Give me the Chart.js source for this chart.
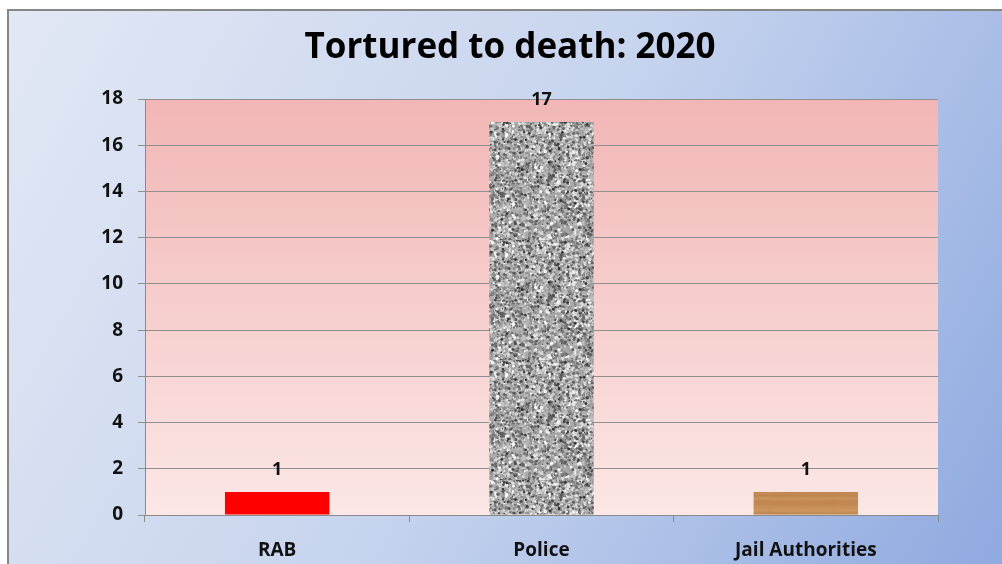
<!DOCTYPE html>
<html>
<head>
<meta charset="utf-8">
<script src="https://cdn.jsdelivr.net/npm/chart.js@4.4.1/dist/chart.umd.min.js"></script>
<style>
    html, body { margin: 0; padding: 0; background: #ffffff; }
    #wrap { width: 1002px; height: 564px; }
</style>
</head>
<body>
<div id="wrap"><canvas id="torture-chart" width="1002" height="564"></canvas></div>
<script>
// categories and counts
var categories = ["RAB", "Police", "Jail Authorities"];
var deaths = [1, 17, 1];
var yMax = 18;
var yStep = 2;
var chartTitle = "Tortured to death: 2020";

// simple seeded generator for the bar textures
var seed = 12345;
function rnd() {
    seed = (seed * 1103515245 + 12345) % 2147483648;
    return seed / 2147483648;
}

// speckled grey granite fill
function granitePattern() {
    var c = document.createElement("canvas");
    c.width = 120; c.height = 120;
    var g = c.getContext("2d");
    g.fillStyle = "#acacac";
    g.fillRect(0, 0, 120, 120);
    g.filter = "blur(0.7px)";
    for (var i = 0; i < 5000; i++) {
        var v = Math.floor(90 + rnd() * 165);
        g.fillStyle = "rgb(" + v + "," + v + "," + v + ")";
        g.beginPath();
        g.arc(rnd() * 120, rnd() * 120, 0.6 + rnd() * 1.2, 0, Math.PI * 2);
        g.fill();
    }
    for (var j = 0; j < 300; j++) {
        var d = Math.floor(45 + rnd() * 50);
        g.fillStyle = "rgb(" + d + "," + d + "," + d + ")";
        g.beginPath();
        g.arc(rnd() * 120, rnd() * 120, 0.6 + rnd() * 0.9, 0, Math.PI * 2);
        g.fill();
    }
    return g.createPattern(c, "repeat");
}

// light oak wood fill with horizontal grain
function woodPattern() {
    var c = document.createElement("canvas");
    c.width = 110; c.height = 24;
    var g = c.getContext("2d");
    g.fillStyle = "#c98f58";
    g.fillRect(0, 0, 110, 24);
    g.filter = "blur(0.8px)";
    for (var k = 0; k < 10; k++) {
        var yy = rnd() * 24;
        g.strokeStyle = "rgba(150,95,45," + (0.15 + rnd() * 0.25) + ")";
        g.lineWidth = 0.8 + rnd() * 1.5;
        g.beginPath();
        g.moveTo(0, yy);
        g.bezierCurveTo(30, yy + rnd() * 3 - 1.5, 70, yy + rnd() * 3 - 1.5, 110, yy);
        g.stroke();
    }
    for (var m = 0; m < 5; m++) {
        var ly = rnd() * 24;
        g.strokeStyle = "rgba(225,180,125,0.45)";
        g.lineWidth = 1 + rnd();
        g.beginPath();
        g.moveTo(0, ly);
        g.lineTo(110, ly + rnd() * 2 - 1);
        g.stroke();
    }
    return g.createPattern(c, "repeat");
}

var barFills = ["#ff0000", granitePattern(), woodPattern()];

// outer frame, blue backdrop and pink plot area
var backdrop = {
    id: "backdrop",
    beforeDraw: function (chart) {
        var ctx = chart.ctx, a = chart.chartArea;
        ctx.save();
        ctx.fillStyle = "#ffffff";
        ctx.fillRect(0, 0, chart.width, chart.height);
        var bg = ctx.createLinearGradient(8, 10, chart.width, chart.height);
        bg.addColorStop(0, "#e2e8f4");
        bg.addColorStop(0.5, "#c7d4ee");
        bg.addColorStop(1, "#8faae0");
        ctx.fillStyle = bg;
        ctx.fillRect(8, 10, chart.width - 8, chart.height - 10);
        ctx.strokeStyle = "#878787";
        ctx.lineWidth = 2;
        ctx.strokeRect(8, 10, chart.width + 10, chart.height + 10);
        var pg = ctx.createLinearGradient(0, a.top, 0, a.bottom);
        pg.addColorStop(0, "#f1b6b5");
        pg.addColorStop(1, "#fbe7e6");
        ctx.fillStyle = pg;
        ctx.fillRect(a.left, a.top, a.right - a.left, a.bottom - a.top);
        ctx.restore();
    }
};

// value written above each bar
var barValues = {
    id: "barValues",
    afterDatasetsDraw: function (chart) {
        var ctx = chart.ctx;
        var meta = chart.getDatasetMeta(0);
        ctx.save();
        ctx.font = "bold 18px 'Open Sans'";
        ctx.fillStyle = "#111111";
        ctx.textAlign = "center";
        ctx.textBaseline = "middle";
        meta.data.forEach(function (bar, i) {
            ctx.fillText(String(deaths[i]), bar.x, bar.y - 22);
        });
        ctx.restore();
    }
};

new Chart(document.getElementById("torture-chart"), {
    type: 'bar',
    data: {
        labels: categories,
        datasets: [
            {
                data: deaths,
                backgroundColor: barFills,
                borderWidth: 0,
                categoryPercentage: 1,
                barPercentage: 0.395
            }
        ]
    },
    options: {
        responsive: false,
        animation: false,
        layout: { padding: { left: 82, right: 64, top: 0, bottom: 0 } },
        plugins: {
            legend: { display: false },
            tooltip: { enabled: false },
            title: {
                display: true,
                text: chartTitle,
                color: "#000000",
                font: { family: "Open Sans", size: 35, weight: "bold" },
                padding: { top: 27, bottom: 30 }
            }
        },
        scales: {
            x: {
                grid: { display: true, drawOnChartArea: false, drawTicks: true, tickLength: 7, color: "#8a8a8a", offset: true },
                border: { display: true, color: "#8a8a8a", width: 1 },
                ticks: { color: "#111111", font: { family: "Open Sans", size: 19, weight: "bold" }, padding: 17 },
                afterFit: function (scale) { scale.height = 49; }
            },
            y: {
                min: 0,
                max: yMax,
                ticks: { stepSize: yStep, color: "#111111", font: { family: "Open Sans", size: 19, weight: "bold" }, padding: 15 },
                grid: { color: "#8f8f8f", lineWidth: 1, tickLength: 7 },
                border: { display: true, color: "#8a8a8a", width: 1 },
                afterFit: function (scale) { scale.width = 63; }
            }
        }
    },
    plugins: [backdrop, barValues]
});
</script>
</body>
</html>
